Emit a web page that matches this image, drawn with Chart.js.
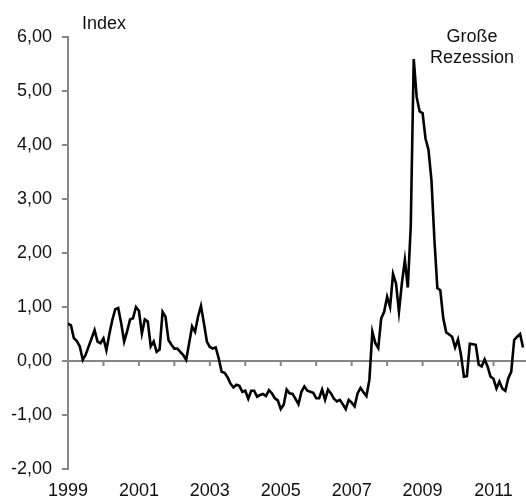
<!DOCTYPE html>
<html>
<head>
<meta charset="utf-8">
<script src="https://cdn.jsdelivr.net/npm/chart.js@4.4.1/dist/chart.umd.min.js"></script>
<style>
  html, body { margin: 0; padding: 0; background: #fff; }
  #wrap { position: relative; width: 526px; height: 500px; }
</style>
</head>
<body>
<div id="wrap"><canvas id="chart"></canvas></div>
<script>
// Daten: monatliche Indexwerte ab Januar 1999
const startYear = 1999;
const indexWerte = [
  0.69, 0.66, 0.42, 0.37, 0.27, 0.02, 0.12, 0.27, 0.42, 0.57, 0.36, 0.33,
  0.42, 0.20, 0.50, 0.76, 0.96, 0.98, 0.70, 0.36, 0.55, 0.77, 0.79, 1.00,
  0.93, 0.51, 0.77, 0.73, 0.27, 0.36, 0.17, 0.21, 0.91, 0.82, 0.39, 0.30,
  0.23, 0.23, 0.17, 0.11, 0.02, 0.33, 0.64, 0.54, 0.82, 1.02, 0.70, 0.36,
  0.26, 0.23, 0.25, 0.05, -0.20, -0.22, -0.30, -0.42, -0.49, -0.44, -0.46, -0.57,
  -0.55, -0.70, -0.55, -0.55, -0.66, -0.63, -0.61, -0.65, -0.54, -0.60, -0.69, -0.73,
  -0.89, -0.81, -0.53, -0.60, -0.61, -0.70, -0.80, -0.57, -0.47, -0.55, -0.57, -0.59,
  -0.69, -0.69, -0.53, -0.72, -0.53, -0.60, -0.70, -0.75, -0.72, -0.80, -0.89, -0.72,
  -0.77, -0.84, -0.60, -0.50, -0.58, -0.65, -0.35, 0.54, 0.33, 0.24, 0.79, 0.91,
  1.19, 1.00, 1.61, 1.44, 0.91, 1.44, 1.87, 1.36, 2.50, 5.59, 4.89, 4.62,
  4.59, 4.12, 3.91, 3.35, 2.25, 1.35, 1.31, 0.79, 0.53, 0.49, 0.45, 0.25,
  0.40, 0.11, -0.29, -0.28, 0.32, 0.31, 0.30, -0.07, -0.10, 0.03, -0.10, -0.29,
  -0.33, -0.51, -0.38, -0.51, -0.55, -0.32, -0.20, 0.39, 0.45, 0.50, 0.25
];
const jahreBeschriftet = [1999, 2001, 2003, 2005, 2007, 2009, 2011];
const jahreStriche = [1999, 2000, 2001, 2002, 2003, 2004, 2005, 2006, 2007, 2008, 2009, 2010, 2011];
const yTicks = [-2, -1, 0, 1, 2, 3, 4, 5, 6];

const schrift = "'Liberation Sans', Arial, sans-serif";
const grau = '#868686';

// Nulllinie mit Jahresstrichen + Beschriftungen
const extras = {
  id: 'extras',
  beforeDatasetsDraw(chart) {
    const { ctx, chartArea, scales } = chart;
    const y0 = scales.y.getPixelForValue(0);
    ctx.save();
    ctx.strokeStyle = grau;
    ctx.lineWidth = 2;
    ctx.beginPath();
    ctx.moveTo(chartArea.left, y0);
    ctx.lineTo(chartArea.right, y0);
    jahreStriche.forEach(j => {
      const x = scales.x.getPixelForValue((j - startYear) * 12);
      ctx.moveTo(x, y0);
      ctx.lineTo(x, y0 + 5);
    });
    ctx.stroke();
    ctx.restore();
  },
  afterDraw(chart) {
    const ctx = chart.ctx;
    ctx.save();
    ctx.fillStyle = '#111';
    ctx.font = '18px ' + schrift;
    ctx.textBaseline = 'middle';
    ctx.textAlign = 'left';
    ctx.fillText('Index', 82, 24);
    ctx.textAlign = 'center';
    ctx.fillText('Große', 472, 37);
    ctx.fillText('Rezession', 472, 58);
    ctx.restore();
  }
};

new Chart(document.getElementById('chart'), {
  type: 'line',
  data: {
    datasets: [{
      data: indexWerte.map((v, i) => ({ x: i, y: v })),
      borderColor: '#000',
      borderWidth: 2.6,
      pointRadius: 0,
      tension: 0,
      fill: false
    }]
  },
  options: {
    responsive: true,
    maintainAspectRatio: false,
    animation: false,
    layout: { padding: { top: 37, right: 0, bottom: 0, left: 0 } },
    plugins: { legend: { display: false }, tooltip: { enabled: false } },
    scales: {
      x: {
        type: 'linear',
        min: 0,
        max: 155,
        grid: { display: false, drawTicks: false },
        border: { display: false },
        afterBuildTicks: s => { s.ticks = jahreBeschriftet.map(j => ({ value: (j - startYear) * 12 })); },
        afterFit: s => { s.height = 31; },
        ticks: {
          padding: 11,
          maxRotation: 0,
          autoSkip: false,
          color: '#111',
          font: { family: schrift, size: 18 },
          callback: v => String(startYear + v / 12)
        }
      },
      y: {
        min: -2,
        max: 6,
        afterBuildTicks: s => { s.ticks = yTicks.map(v => ({ value: v })); },
        afterFit: s => { s.width = 68; },
        grid: { drawOnChartArea: false, drawTicks: true, tickLength: 6, color: grau, lineWidth: 2 },
        border: { display: true, color: grau, width: 2 },
        ticks: {
          padding: 10,
          color: '#111',
          font: { family: schrift, size: 18 },
          callback: v => v.toFixed(2).replace('.', ',')
        }
      }
    }
  },
  plugins: [extras]
});
</script>
</body>
</html>
